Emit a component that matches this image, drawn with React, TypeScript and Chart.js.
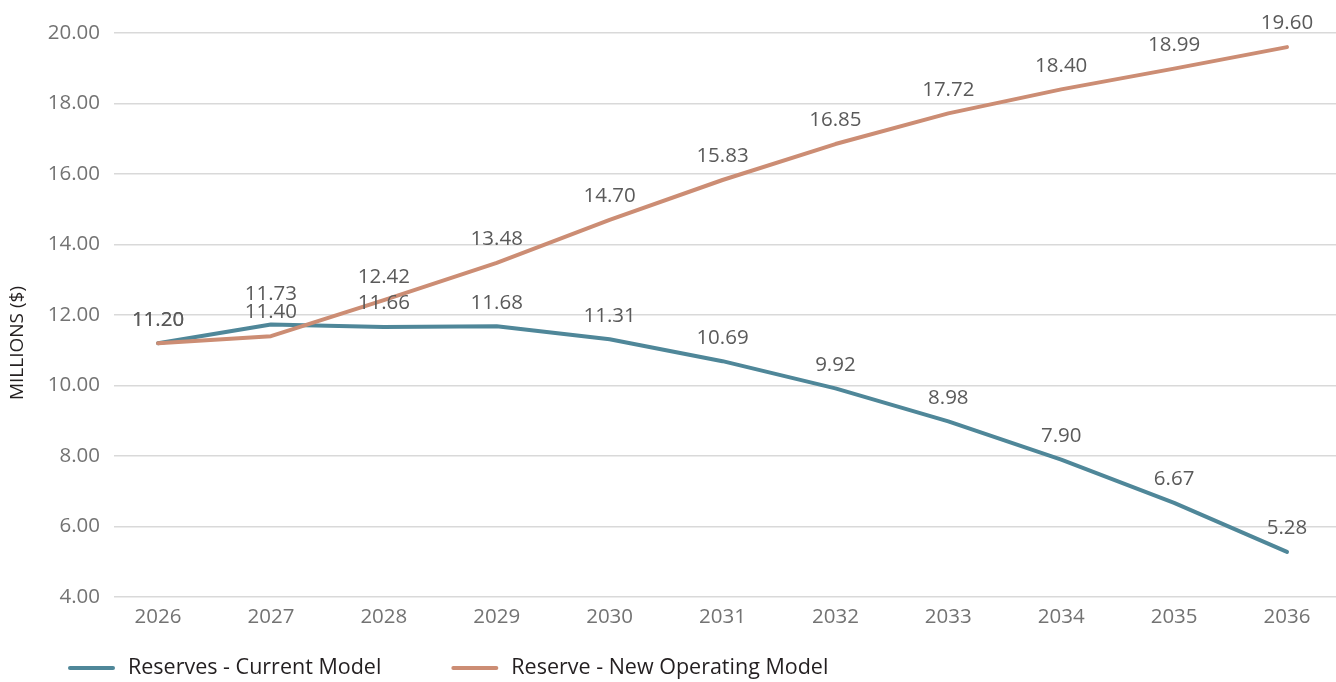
import React, { useEffect, useRef } from 'react';
import { Chart, registerables } from 'chart.js';

Chart.register(...registerables);

// ---- Data ----
const categories = ['2026', '2027', '2028', '2029', '2030', '2031', '2032', '2033', '2034', '2035', '2036'];
const currentModel = [11.2, 11.73, 11.66, 11.68, 11.31, 10.69, 9.92, 8.98, 7.9, 6.67, 5.28];
const newOperatingModel = [11.2, 11.4, 12.42, 13.48, 14.7, 15.83, 16.85, 17.72, 18.4, 18.99, 19.6];
const seriesNames = ['Reserves - Current Model', 'Reserve - New Operating Model'];
const yMin = 4;
const yMax = 20;
const yStep = 2;
const yTitle = 'MILLIONS ($)';

// ---- Styles ----
const FONT = '"Open Sans", "Noto Sans", sans-serif';
const COLOR_CURRENT = '#4f8799';
const COLOR_NEW = '#cc8d74';
const TICK_COLOR = '#737373';
const LABEL_COLOR = '#5a5a5a';
const DARK = '#231f20';

const firstYear = Number(categories[0]);
const lastYear = Number(categories[categories.length - 1]);

const dataLabelPlugin = {
  id: 'dataLabels',
  afterDatasetsDraw(chart: any) {
    const ctx = chart.ctx;
    ctx.save();
    ctx.font = `20.5px ${FONT}`;
    ctx.fillStyle = LABEL_COLOR;
    ctx.textAlign = 'center';
    ctx.textBaseline = 'middle';
    const n = categories.length;
    for (let j = 0; j < n; j++) {
      const items: { x: number; y: number; text: string }[] = [];
      chart.data.datasets.forEach((ds: any, i: number) => {
        const meta = chart.getDatasetMeta(i);
        const pt = meta.data[j];
        if (!pt) return;
        items.push({ x: pt.x, y: pt.y - 23.5, text: Number(ds.data[j].y).toFixed(2) });
      });
      items.sort((a, b) => a.y - b.y);
      for (let k = items.length - 2; k >= 0; k--) {
        const lower = items[k + 1];
        const upper = items[k];
        if (upper.text !== lower.text && lower.y - upper.y < 18) {
          upper.y = lower.y - 18;
        }
      }
      items.forEach((it) => ctx.fillText(it.text, it.x, it.y));
    }
    ctx.restore();
  },
};

const yTitlePlugin = {
  id: 'yTitleCustom',
  afterDraw(chart: any) {
    const ctx = chart.ctx;
    ctx.save();
    ctx.translate(18, 343);
    ctx.rotate(-Math.PI / 2);
    ctx.font = `19px ${FONT}`;
    ctx.fillStyle = DARK;
    ctx.textAlign = 'center';
    ctx.textBaseline = 'middle';
    ctx.fillText(yTitle, 0, 0);
    ctx.restore();
  },
};

const legendPlugin = {
  id: 'bottomLegend',
  afterDraw(chart: any) {
    const ctx = chart.ctx;
    ctx.save();
    ctx.font = `21.5px ${FONT}`;
    ctx.textBaseline = 'middle';
    ctx.textAlign = 'left';
    const y = 668;
    let x = 68;
    const lineLen = 47;
    chart.data.datasets.forEach((ds: any) => {
      ctx.beginPath();
      ctx.strokeStyle = ds.borderColor;
      ctx.lineWidth = 4;
      ctx.lineCap = 'round';
      ctx.moveTo(x + 2, y);
      ctx.lineTo(x + lineLen - 2, y);
      ctx.stroke();
      const tx = x + lineLen + 13;
      ctx.fillStyle = DARK;
      ctx.fillText(ds.label, tx, y);
      x = tx + ctx.measureText(ds.label).width + 70;
    });
    ctx.restore();
  },
};

export default function App() {
  const canvasRef = useRef<HTMLCanvasElement | null>(null);

  useEffect(() => {
    let chart: Chart | null = null;
    let cancelled = false;
    const make = () => {
      if (cancelled || !canvasRef.current) return;
      chart = new Chart(canvasRef.current, {
        type: 'line',
        data: {
          datasets: [
            {
              label: seriesNames[0],
              data: categories.map((c, i) => ({ x: Number(c), y: currentModel[i] })),
              borderColor: COLOR_CURRENT,
              backgroundColor: COLOR_CURRENT,
              borderWidth: 4,
              pointRadius: 0,
              pointHoverRadius: 0,
              tension: 0,
              borderCapStyle: 'round',
              borderJoinStyle: 'round',
              order: 2,
            },
            {
              label: seriesNames[1],
              data: categories.map((c, i) => ({ x: Number(c), y: newOperatingModel[i] })),
              borderColor: COLOR_NEW,
              backgroundColor: COLOR_NEW,
              borderWidth: 4,
              pointRadius: 0,
              pointHoverRadius: 0,
              tension: 0,
              borderCapStyle: 'round',
              borderJoinStyle: 'round',
              order: 1,
            },
          ],
        } as any,
        options: {
          animation: false,
          responsive: true,
          maintainAspectRatio: false,
          layout: { padding: { top: 33, left: 48, right: 0, bottom: 51 } },
          plugins: {
            legend: { display: false },
            tooltip: { enabled: false },
            title: { display: false },
          },
          scales: {
            x: {
              type: 'linear',
              min: firstYear - 0.39,
              max: lastYear + 0.434,
              grid: { display: false, drawTicks: false },
              border: { display: false },
              afterBuildTicks: (axis: any) => {
                axis.ticks = categories.map((c) => ({ value: Number(c) }));
              },
              afterFit: (axis: any) => {
                axis.height = 34;
              },
              ticks: {
                autoSkip: false,
                maxRotation: 0,
                padding: 8,
                color: TICK_COLOR,
                font: { family: FONT, size: 20.5 },
                callback: (v: any) => categories[Math.round(Number(v)) - firstYear] ?? '',
              },
            },
            y: {
              type: 'linear',
              min: yMin,
              max: yMax,
              grid: { color: '#d9d9d9', lineWidth: 1.5, drawTicks: false },
              border: { display: false },
              afterFit: (axis: any) => {
                axis.width = 66;
              },
              ticks: {
                stepSize: yStep,
                padding: 14,
                color: TICK_COLOR,
                font: { family: FONT, size: 20.5 },
                callback: (v: any) => Number(v).toFixed(2),
              },
            },
          },
        } as any,
        plugins: [dataLabelPlugin, yTitlePlugin, legendPlugin],
      });
    };
    const fonts: any = (document as any).fonts;
    if (fonts && fonts.load) {
      fonts.load(`21px "Open Sans"`).then(make, make);
    } else {
      make();
    }
    return () => {
      cancelled = true;
      if (chart) chart.destroy();
    };
  }, []);

  return (
    <div style={{ position: 'fixed', left: 0, top: 0, width: 1336, height: 682, background: '#ffffff' }}>
      <canvas ref={canvasRef} />
    </div>
  );
}
